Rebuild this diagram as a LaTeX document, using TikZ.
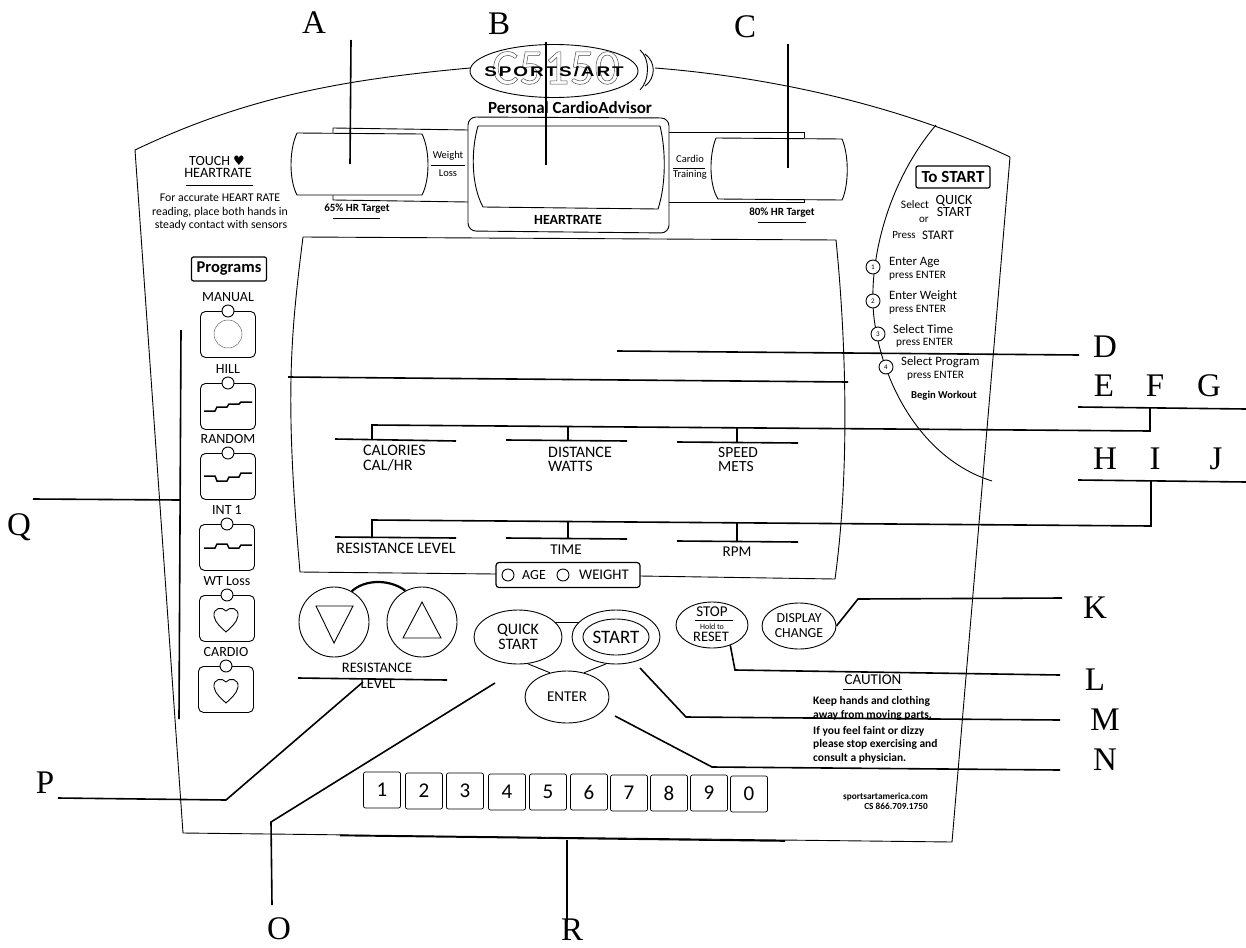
\documentclass[tikz,border=0pt]{standalone}
\usepackage{fontspec}
\setmainfont{Carlito}
\newfontfamily\letterfont{Liberation Serif}
\newfontfamily\logofont[FakeStretch=1.35,LetterSpace=14]{Liberation Sans}
\newfontfamily\symfont{DejaVu Sans}
\usetikzlibrary{shapes.geometric}

\begin{document}
\begin{tikzpicture}[
            x=1pt, y=-1pt,
            letter/.style = {font=\letterfont\fontsize{33}{33}\selectfont, inner sep=0pt},
            leader/.style = {line width=1.6pt},
            panel/.style = {line width=0.9pt},
            txt/.style = {font=\fontsize{#1}{#1}\selectfont, inner sep=0pt},
            btxt/.style = {font=\bfseries\fontsize{#1}{#1}\selectfont, inner sep=0pt},
            btn/.style = {draw, panel, ellipse, inner sep=0pt, align=center,
                font=\fontsize{16}{15.5}\selectfont},
            progbox/.style = {draw, panel, rounded corners=5pt, minimum width=55pt, minimum height=46pt, inner sep=0pt},
            led/.style = {draw, panel, circle, fill=white, minimum size=12pt, inner sep=0pt},
            stepnum/.style = {draw, panel, circle, fill=white, minimum size=14pt, inner sep=0pt, font=\fontsize{7}{7}\selectfont},
            keybox/.style = {draw, line width=0.7pt, rounded corners=2pt, minimum width=37pt, minimum height=36pt, inner sep=0pt,
                font=\fontsize{21}{21}\selectfont}
            ]
            \useasboundingbox (0,0) rectangle (1246,947);

            % Panel outline
            \coordinate (panelTL) at (135,150);
            \coordinate (panelBL) at (183,833);
            \coordinate (panelBR) at (952,842);
            \coordinate (panelTR) at (1010,157);
            \coordinate (curveTop) at (936,125);
            \coordinate (curveEnd) at (992,481);
            \draw[panel] (470,68) .. controls (350,79) and (250,95) .. (panelTL) -- (panelBL) -- (panelBR) -- (panelTR);
            \draw[panel] (655,68) .. controls (770,77) and (900,105) .. (panelTR);
            \draw[panel] (curveTop) .. controls (885,185) and (866,270) .. (875,325)
                .. controls (885,390) and (925,460) .. (curveEnd);
            \draw[leader] (340,835.5) -- (785,841);

            % Logo
            \node[draw, panel, ellipse, minimum width=168pt, minimum height=53pt, inner sep=0pt] (logo) at (554,71) {};
            \node[txt=50, text=black!70] (logoModel) at (556,68) {\special{pdf:code q 1 Tr 0.5 w}C5150\special{pdf:code Q}};
            \node[font=\logofont\bfseries\fontsize{14}{14}\selectfont, inner sep=0pt] (logoBrand) at (554,72) {SPORTS/ART};
            \draw[panel] (640,50) .. controls (650,58) and (650,80) .. (640,90);
            \draw[panel] (645,54) .. controls (656,62) and (656,78) .. (645,86);
            \node[btxt=17] (advisor) at (570,108) {Personal CardioAdvisor};

            % Displays
            \draw[panel] (333,133) -- (333,128) -- (468,130);
            \draw[panel] (333,195) -- (333,200) -- (468,202);
            \draw[panel] (804,138) -- (804,132) -- (669,132);
            \draw[panel] (804,200) -- (804,202) -- (669,202);
            \draw[panel, rounded corners=8pt, fill=white] (468,117) -- (669,118) -- (669,233) -- (468,231) -- cycle;
            \draw[panel, fill=white] (297,133) -- (422,134) .. controls (430,150) and (430,180) .. (422,195)
                -- (297,195) .. controls (289,180) and (289,150) .. (297,133);
            \draw[panel, fill=white] (478,126) -- (660,126) .. controls (666,150) and (666,185) .. (658,209)
                -- (483,207) .. controls (471,185) and (471,150) .. (478,126);
            \draw[panel, fill=white] (716,138) -- (842,139) .. controls (849,155) and (849,185) .. (842,200)
                -- (718,199) .. controls (709,185) and (709,155) .. (716,138);
            \node[txt=10.5] (weightTxt) at (448,156) {Weight};
            \node[txt=10.5] (lossTxt) at (448,173) {Loss};
            \node[txt=10.5] (cardioTxt) at (690,159) {Cardio};
            \node[txt=10.5] (trainingTxt) at (690,175) {Training};
            \draw[panel] (431,165) -- (465,165);
            \draw[panel] (673,168) -- (705,168);
            \node[btxt=11] (lowTarget) at (357,209) {65\% HR Target};
            \node[btxt=11] (highTarget) at (782,213) {80\% HR Target};
            \draw[panel] (333,218) -- (380,218);
            \draw[panel] (758,222) -- (806,222);
            \node[btxt=14] (heartTxt) at (568,220) {HEARTRATE};

            % Heart rate note
            \node[txt=14] (touchTxt) at (217,161) {TOUCH {\symfont\fontsize{13}{13}\selectfont ♥}};
            \node[txt=14.3] (rateTxt) at (218,173) {HEARTRATE};
            \draw[panel] (186,185) -- (253,185);
            \node[txt=11.8] (noteA) at (220,198) {For accurate HEART RATE};
            \node[txt=11.8] (noteB) at (220,212) {reading, place both hands in};
            \node[txt=11.8] (noteC) at (221,225) {steady contact with sensors};

            % Start steps
            \node[draw, line width=1.2pt, rounded corners=2pt, minimum width=74pt, minimum height=22pt, inner sep=0pt,
                font=\bfseries\fontsize{17}{17}\selectfont] (toStart) at (953,177) {To START};
            \node[txt=11.5] (selectTxt) at (915,205) {Select};
            \node[txt=14] (quickTxt) at (954,201) {QUICK};
            \node[txt=14] (quickTxtB) at (954,212) {START};
            \node[txt=11] (orTxt) at (924,220) {or};
            \node[txt=11] (pressTxt) at (904,235) {Press};
            \node[txt=13] (pressStart) at (938,235) {START};
            \foreach \i/\x/\y/\head/\tx/\ty/\dx in {1/873/267/Enter Age/889/262/889,
                    2/873/301/Enter Weight/889/296/889,
                    3/878/334/Select Time/893/329/896,
                    4/886/367/Select Program/901/362/907} {
                \node[stepnum] (stepNum\i) at (\x,\y) {\i};
                \node[txt=12.8, anchor=west] (stepHead\i) at (\tx,\ty) {\head};
                \node[txt=11.3, anchor=west] (stepPress\i) at (\dx,\ty+14) {press ENTER};
            }
            \node[btxt=10.6, anchor=west] (beginTxt) at (911,396) {Begin Workout};

            % Main window
            \draw[panel] (303,237) -- (836,240) .. controls (846,340) and (850,470) .. (835,579) -- (640,576);
            \draw[panel] (303,237) .. controls (290,340) and (285,400) .. (300,572) -- (496,574);
            \node[draw, line width=1.2pt, rounded corners=3pt, fill=white, minimum width=144pt, minimum height=25pt, inner sep=0pt] (ageBox) at (568,575) {};
            \node[draw, panel, circle, minimum size=12pt, inner sep=0pt] (ageDot) at (508,575) {};
            \node[draw, panel, circle, minimum size=12pt, inner sep=0pt] (weightDot) at (563,575) {};
            \node[txt=14] (ageTxt) at (534,575) {AGE};
            \node[txt=14.7] (weightBoxTxt) at (604,575) {WEIGHT};
            \node[txt=16, anchor=west] (calTxt) at (363,450) {CALORIES};
            \node[txt=16, anchor=west] (calHrTxt) at (363,465) {CAL/HR};
            \node[txt=16, anchor=west] (distTxt) at (548,452) {DISTANCE};
            \node[txt=16, anchor=west] (wattsTxt) at (548,466) {WATTS};
            \node[txt=15.5, anchor=west] (speedTxt) at (718,453) {SPEED};
            \node[txt=15.5, anchor=west] (metsTxt) at (718,467) {METS};
            \node[txt=16] (resistTxt) at (396,548) {RESISTANCE LEVEL};
            \node[txt=15] (timeTxt) at (566,550) {TIME};
            \node[txt=15] (rpmTxt) at (737,552) {RPM};

            % Programs
            \node[draw, line width=1.2pt, rounded corners=2pt, minimum width=75pt, minimum height=24pt, inner sep=0pt,
                font=\bfseries\fontsize{16.5}{16.5}\selectfont] (programs) at (229,269) {Programs};
            \foreach \i/\name/\x/\y in {1/MANUAL/228/311,2/HILL/228/383,3/RANDOM/228/453,4/INT 1/227/524,5/WT Loss/227/595,6/CARDIO/226/666} {
                \node[progbox, anchor=north] (prog\i) at (\x,\y) {};
                \node[led] (progLed\i) at (\x,\y) {};
                \node[txt=14] (progName\i) at (\x,\y-14) {\name};
            }
            \node[draw, line width=0.5pt, black!60, circle, minimum size=28pt, inner sep=0pt] (manualDot) at (228,334) {};
            \foreach \yy/\a/\b/\c/\d in {383/28/24/21/19, 453/23/28/24/20, 524/24/20/24/21} {
                \draw[line width=1.5pt] (204,\yy+\a) -- (215,\yy+\a) -- (217,\yy+\b) -- (227,\yy+\b)
                    -- (229,\yy+\c) -- (239,\yy+\c) -- (241,\yy+\d) -- (252,\yy+\d);
            }
            \foreach \cx/\cy in {226/618, 226/689} {
                \draw[panel, shift={(\cx,\cy)}] (0,-7) .. controls (-4,-12) and (-13,-10) .. (-12,-2)
                    .. controls (-11,5) and (-4,10) .. (0,14) .. controls (4,10) and (11,5) .. (12,-2)
                    .. controls (13,-10) and (4,-12) .. (0,-7);
            }

            % Resistance buttons
            \node[draw, panel, circle, minimum size=70pt, inner sep=0pt] (downBtn) at (334,622) {};
            \node[draw, panel, circle, minimum size=70pt, inner sep=0pt] (upBtn) at (422,622) {};
            \draw[panel] (316,606) -- (353,606) -- (334,643) -- cycle;
            \draw[panel] (403,638) -- (441,638) -- (422,602) -- cycle;
            \draw[line width=2.2pt] (downBtn.60) .. controls (365,579) and (390,579) .. (upBtn.118);
            \node[txt=14.5] (levelTxt) at (377,668) {RESISTANCE};
            \node[txt=14.5] (levelTxtB) at (378,684) {LEVEL};

            % Console buttons
            \node[btn, minimum width=88pt, minimum height=54pt] (quickBtn) at (518,637) {QUICK\\START};
            \node[btn, minimum width=88pt, minimum height=54pt] (startOuter) at (616,637) {};
            \node[btn, minimum width=60pt, minimum height=36pt, font=\fontsize{19}{19}\selectfont] (startBtn) at (616,637) {START};
            \node[btn, minimum width=84pt, minimum height=52pt, font=\fontsize{15}{15}\selectfont] (enterBtn) at (567,697) {ENTER};
            \draw[panel] (quickBtn.22) -- (startOuter.158);
            \draw[panel] (quickBtn.-70) -- (enterBtn.125);
            \draw[panel] (startOuter.-110) -- (enterBtn.55);
            \node[btn, minimum width=72pt, minimum height=46pt] (stopBtn) at (712,625) {};
            \node[txt=15] (stopTxt) at (712,612) {STOP};
            \draw[line width=0.6pt] (695,620) -- (733,620);
            \node[txt=8] (holdTxt) at (712,627) {Hold to};
            \node[txt=14.5] (resetTxt) at (711,637) {RESET};
            \node[btn, minimum width=74pt, minimum height=46pt, font=\fontsize{13.8}{15}\selectfont] (displayBtn) at (799,626) {DISPLAY\\CHANGE};

            % Number keys
            \foreach \i/\x/\y/\n in {1/382/790/1,2/424/791/2,3/465/791/3,4/507/792/4,5/548/792/5,6/589/792/6,7/629/793/7,8/669/793/8,9/709/793/9,10/749/794/0} {
                \node[keybox] (key\i) at (\x,\y) {\n};
            }

            % Caution
            \node[txt=15] (cautionTxt) at (873,680) {CAUTION};
            \draw[panel] (843,689) -- (902,689);
            \foreach \i/\y/\line in {1/701/Keep hands and clothing,2/715/away from moving parts.,3/731/If you feel faint or dizzy,4/744/please stop exercising and,5/758/consult a physician.} {
                \node[btxt=11.5, anchor=west] (cautionLine\i) at (813,\y) {\line};
            }
            \node[btxt=9.3, anchor=east] (siteTxt) at (928,797) {sportsartamerica.com};
            \node[btxt=9.3, anchor=east] (phoneTxt) at (928,806) {CS 866.709.1750};

            % Letters
            \foreach \name/\x/\y in {A/314/23,B/499/24,C/745/27,D/1105/347,E/1104/386,F/1155/386,G/1209/386,
                    H/1105/459,I/1155/459,J/1216/459,K/1095/608,L/1095/680,M/1105/720,N/1105/760,
                    O/279/929,P/45/783,Q/19/527,R/572/930} {
                \node[letter] (label\name) at (\x,\y) {\name};
            }

            % Leaders
            \coordinate (aTop) at (351,40);
            \coordinate (aEnd) at (350,164);
            \coordinate (bTop) at (546,42);
            \coordinate (bEnd) at (546,165);
            \coordinate (cTop) at (788,44);
            \coordinate (cEnd) at (788,168);
            \draw[leader] (aTop) -- (aEnd);
            \draw[leader] (bTop) -- (bEnd);
            \draw[leader] (cTop) -- (cEnd);

            \coordinate (dStart) at (617,351);
            \coordinate (dEnd) at (1079,355);
            \coordinate (winLeft) at (288,377);
            \coordinate (winRight) at (848,382);
            \draw[leader] (dStart) -- (dEnd);
            \draw[leader] (winLeft) -- (winRight);

            % Upper and lower read-outs
            \coordinate (efgLeft) at (1078,407);
            \coordinate (efgRight) at (1246,409);
            \coordinate (hijLeft) at (1078,480);
            \coordinate (hijRight) at (1246,482);
            \draw[leader] (efgLeft) -- (efgRight);
            \draw[leader] (hijLeft) -- (hijRight);
            \coordinate (fFoot) at (1150,408);
            \coordinate (iFoot) at (1151,481);
            \coordinate (calTop) at (372,440);
            \coordinate (resTop) at (372,538);
            \draw[leader] (fFoot) -- (1150,431) -- (372,425) -- (calTop);
            \draw[leader] (iFoot) -- (1151,526) -- (372,520) -- (resTop);
            \foreach \xa/\ya/\xb/\yb in {335/439/456/441, 506/440/627/441, 677/442/798/443,
                    335/537/456/538, 506/538/627/539, 677/541/798/542} {
                \draw[leader] (\xa,\ya) -- (\xb,\yb);
            }
            \foreach \xc/\yc/\yd in {568/426.5/441, 737/428/443, 568/521.5/539, 737/523/542} {
                \draw[leader] (\xc,\yc) -- (\xc,\yd);
            }

            % Button leaders
            \coordinate (kEnd) at (1062,598);
            \coordinate (lEnd) at (1060,675);
            \coordinate (mStart) at (640,668);
            \coordinate (mEnd) at (1060,720);
            \coordinate (nStart) at (615,716);
            \coordinate (nEnd) at (1060,770);
            \coordinate (oStart) at (495,683);
            \coordinate (oEnd) at (272,905);
            \coordinate (pEnd) at (58,798);
            \coordinate (pStart) at (363,682);
            \coordinate (qStart) at (33,499);
            \coordinate (qFoot) at (180,500);
            \coordinate (qTop) at (181,330);
            \coordinate (qEnd) at (179,719);
            \coordinate (rEnd) at (567,922);
            \coordinate (rTop) at (567,840);
            \draw[leader] (displayBtn.east) -- (858,599) -- (kEnd);
            \draw[leader] (stopBtn.-48) -- (735,670) -- (lEnd);
            \draw[leader] (mStart) -- (686,717) -- (mEnd);
            \draw[leader] (nStart) -- (712,767) -- (nEnd);
            \draw[leader] (oStart) -- (271,822) -- (oEnd);
            \draw[leader] (pStart) -- (226,800) -- (pEnd);
            \draw[leader] (298,678) -- (447,680);
            \draw[leader] (qTop) -- (qEnd);
            \draw[leader] (qStart) -- (qFoot);
            \draw[leader] (rTop) -- (rEnd);
        \end{tikzpicture}
\end{document}
